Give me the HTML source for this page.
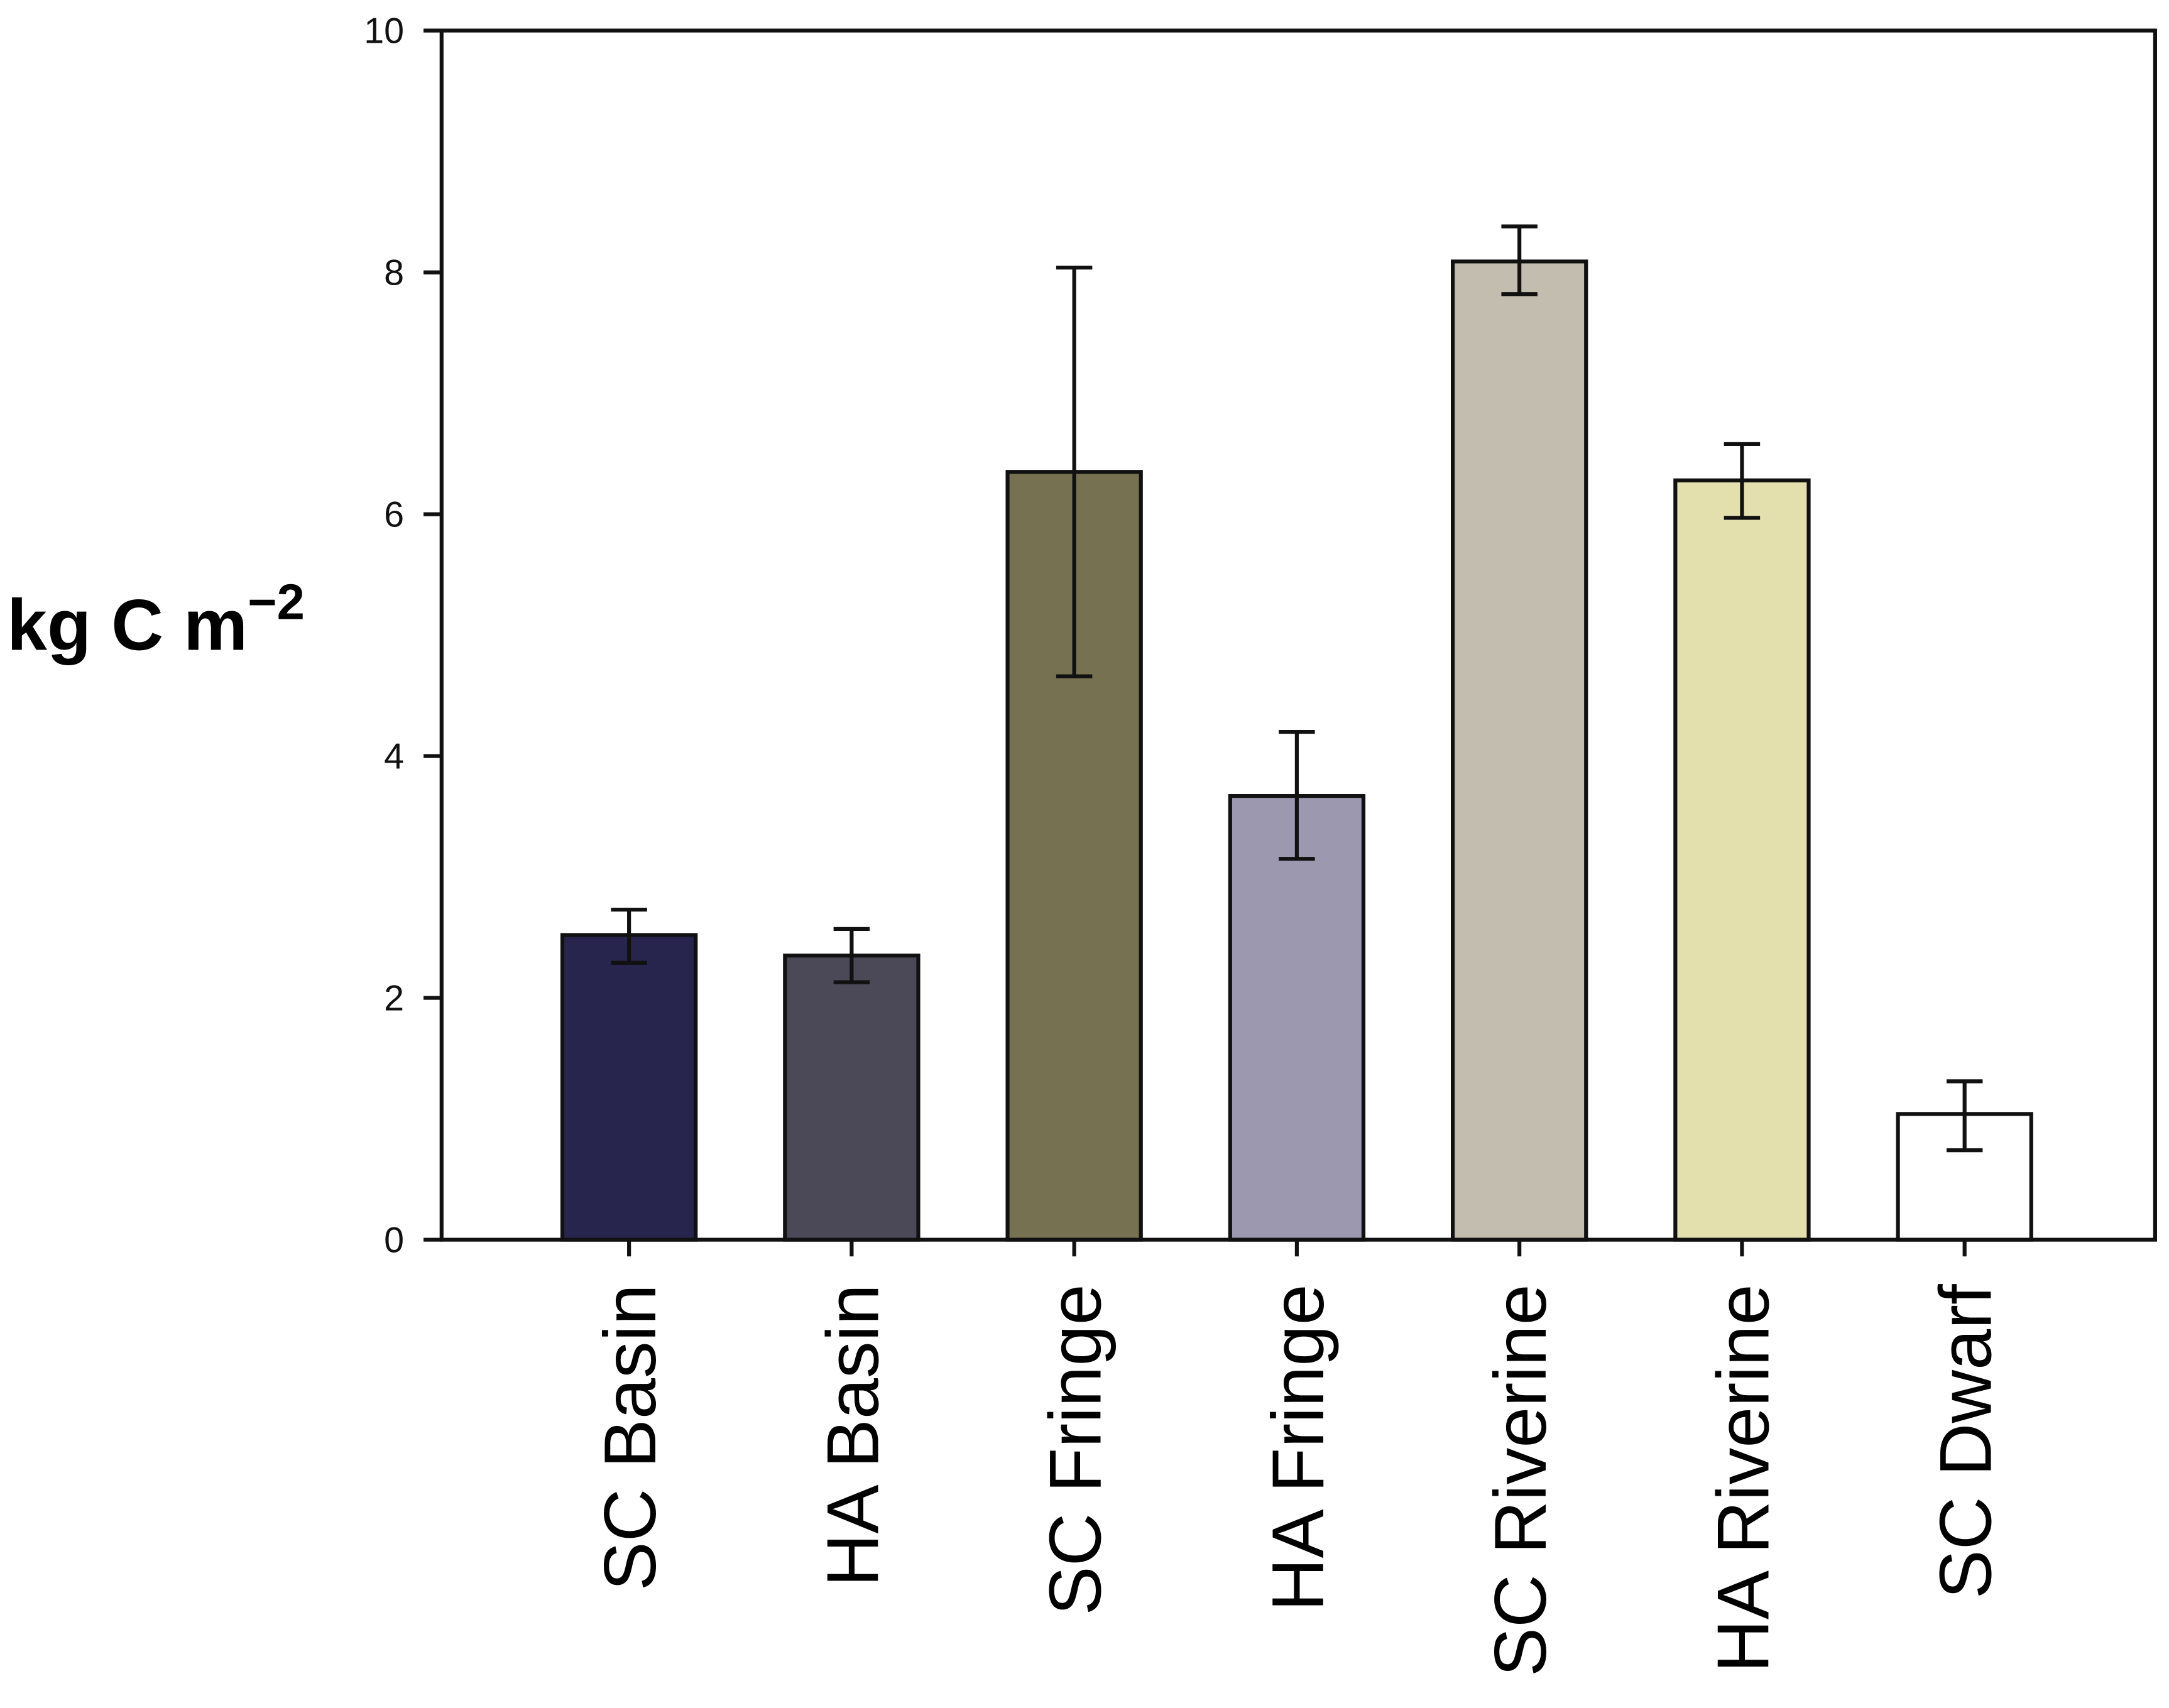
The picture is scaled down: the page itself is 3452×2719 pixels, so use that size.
<!DOCTYPE html>
<html><head><meta charset="utf-8"><style>html,body{margin:0;padding:0;background:#fff}svg{display:block}</style></head>
<body>
<svg id="chart" width="3452" height="2719" viewBox="0 0 1562 1230.3" preserveAspectRatio="none" xmlns="http://www.w3.org/2000/svg" font-family="Liberation Sans, Arial, sans-serif"></svg>
<script>
const categories = ["SC Basin","HA Basin","SC Fringe","HA Fringe","SC Riverine","HA Riverine","SC Dwarf"];
const values = [2.52, 2.35, 6.35, 3.67, 8.09, 6.28, 1.04];
const errLow = [2.29, 2.13, 4.66, 3.15, 7.82, 5.97, 0.74];
const errHigh = [2.73, 2.57, 8.04, 4.20, 8.38, 6.58, 1.31];
const colors = ["#27244d","#4b4857","#767150","#9c98b0","#c2bdae","#e3e0ae","#ffffff"];
const yTicks = [0,2,4,6,8,10];

const NS="http://www.w3.org/2000/svg";
const svg=document.getElementById('chart');
const L=318,R=1552,T=22,B=893,yMax=10;
const y=v=>B-(v/yMax)*(B-T);
const x0=453,step=160.3,bw=96;
const xc=i=>x0+i*step;
function mk(tag,attrs,parent){const e=document.createElementNS(NS,tag);for(const k in attrs)e.setAttribute(k,attrs[k]);(parent||svg).appendChild(e);return e;}

categories.forEach((c,i)=>{
  const r=mk('rect',{x:xc(i)-bw/2,y:y(values[i]),width:bw,height:B-y(values[i]),fill:colors[i],stroke:'#111','stroke-width':2.8});
  
  
  const g=mk('g',{stroke:'#111','stroke-width':2.8});
  
  
  mk('line',{x1:xc(i),x2:xc(i),y1:y(errLow[i]),y2:y(errHigh[i])},g);
  mk('line',{x1:xc(i)-13,x2:xc(i)+13,y1:y(errLow[i]),y2:y(errLow[i])},g);
  mk('line',{x1:xc(i)-13,x2:xc(i)+13,y1:y(errHigh[i]),y2:y(errHigh[i])},g);
  mk('line',{x1:xc(i),x2:xc(i),y1:B,y2:B+12,stroke:'#111','stroke-width':2.8});
  const t=mk('text',{x:0,y:0,transform:`translate(${xc(i)+19},${925}) rotate(-90)`,'text-anchor':'end','font-size':53,fill:'#000'});
  t.textContent=c;
  
  
});
const fr=mk('rect',{x:L,y:T,width:R-L,height:B-T,fill:'none',stroke:'#111','stroke-width':2.8});


yTicks.forEach(v=>{
  mk('line',{x1:L-13,x2:L,y1:y(v),y2:y(v),stroke:'#111','stroke-width':2.8});
  const t=mk('text',{x:291,y:y(v)+9,'text-anchor':'end','font-size':26,fill:'#111'});
  t.textContent=v;
  
  
});
</script>
<svg style="position:absolute;left:0;top:0" width="3452" height="2719" viewBox="0 0 1562 1230.3" preserveAspectRatio="none" xmlns="http://www.w3.org/2000/svg">
<text x="5" y="468" font-family="Liberation Sans, Arial, sans-serif" font-weight="bold" font-size="52" fill="#000">kg C m<tspan dy="-22" font-size="36">−2</tspan></text>
</svg>
</body></html>
